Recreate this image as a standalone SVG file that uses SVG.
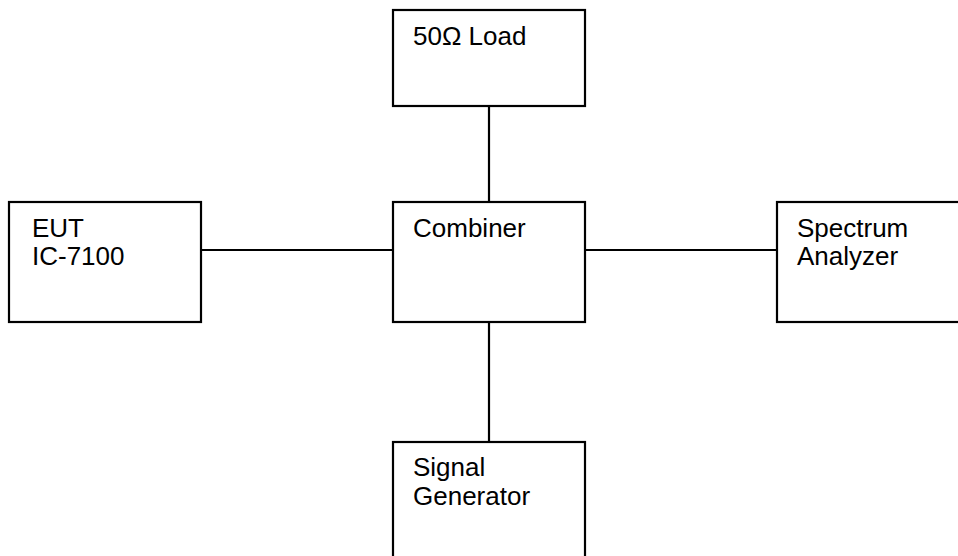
<svg xmlns="http://www.w3.org/2000/svg" width="958" height="556" viewBox="0 0 958 556">
<style>
.box{fill:#fff;stroke:#000;stroke-width:2.2}
.wire{stroke:#000;stroke-width:2.2;fill:none}
text{font-family:"Liberation Sans",Arial,sans-serif;font-size:26px;fill:#000}
</style>
<rect width="958" height="556" fill="#fff"/>
<g id="connectors">
<line class="wire" x1="489" y1="106" x2="489" y2="202"/>
<line class="wire" x1="489" y1="322" x2="489" y2="442"/>
<line class="wire" x1="201" y1="250" x2="393" y2="250"/>
<line class="wire" x1="585" y1="250" x2="777" y2="250"/>
</g>
<g id="load">
<rect class="box" x="393" y="10" width="192" height="96"/>
<text x="413" y="45">50Ω Load</text>
</g>
<g id="eut">
<rect class="box" x="9" y="202" width="192" height="120"/>
<text x="32" y="237">EUT</text>
<text x="32" y="265">IC-7100</text>
</g>
<g id="combiner">
<rect class="box" x="393" y="202" width="192" height="120"/>
<text x="413" y="237">Combiner</text>
</g>
<g id="spectrum">
<rect class="box" x="777" y="202" width="192" height="120"/>
<text x="797" y="237">Spectrum</text>
<text x="797" y="265">Analyzer</text>
</g>
<g id="siggen">
<rect class="box" x="393" y="442" width="192" height="130"/>
<text x="413" y="476">Signal</text>
<text x="413" y="505">Generator</text>
</g>
</svg>
